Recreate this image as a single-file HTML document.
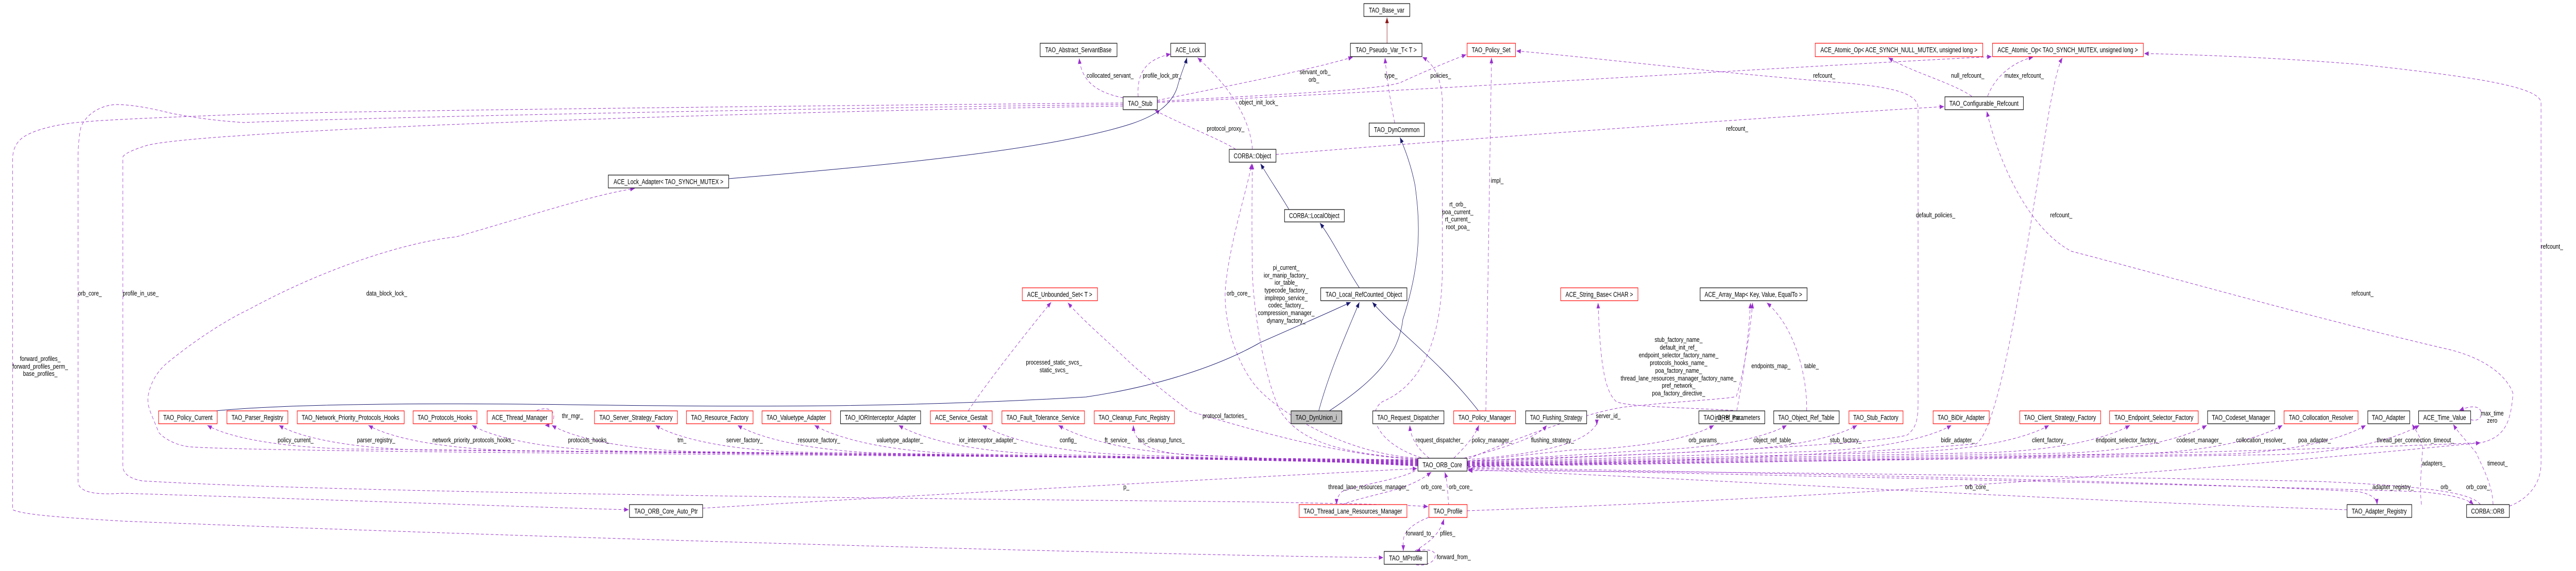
<!DOCTYPE html>
<html><head><meta charset="utf-8"><style>
html,body{margin:0;padding:0;background:#fff;width:100%;height:100%;overflow:hidden}
svg{display:block;width:100vw;height:100vh}
.n{font-family:"Liberation Sans",sans-serif;font-size:14px;fill:#000}
.l{font-family:"Liberation Sans",sans-serif;font-size:13px;fill:#000}
.p{fill:none;stroke:#9a32cd;stroke-width:1;stroke-dasharray:7,5}
.b{fill:none;stroke:#191970;stroke-width:1}
</style></head><body>
<svg viewBox="0 0 6335 1109" preserveAspectRatio="none" xmlns="http://www.w3.org/2000/svg">
<defs>
<marker id="ap" viewBox="0 0 10 10" refX="10" refY="5" markerWidth="11" markerHeight="11" markerUnits="userSpaceOnUse" orient="auto"><path d="M0,1 L10,5 L0,9 z" fill="#9a32cd"/></marker>
<marker id="ab" viewBox="0 0 10 10" refX="10" refY="5" markerWidth="11" markerHeight="11" markerUnits="userSpaceOnUse" orient="auto"><path d="M0,1 L10,5 L0,9 z" fill="#191970"/></marker>
<marker id="ar" viewBox="0 0 10 10" refX="10" refY="5" markerWidth="11" markerHeight="11" markerUnits="userSpaceOnUse" orient="auto"><path d="M0,1 L10,5 L0,9 z" fill="#8b1a1a"/></marker>
</defs>

<g marker-end="url(#ap)">
<path class="p" d="M3487,893 L860,872 C660,868 550,845 510,826"/>
<path class="p" d="M3487,895 L1036,874 C836,870 726,845 686,826"/>
<path class="p" d="M3487,896 L1256,875 C1056,870 946,845 906,826"/>
<path class="p" d="M3487,897 L1511,876 C1311,871 1201,845 1161,826"/>
<path class="p" d="M3487,898 L1707,877 C1507,872 1397,845 1357,826"/>
<path class="p" d="M3487,899 L1960,878 C1760,873 1650,845 1612,826"/>
<path class="p" d="M3487,900 L2164,880 C1964,874 1854,845 1814,826"/>
<path class="p" d="M3487,901 L2353,881 C2153,875 2043,845 2003,826"/>
<path class="p" d="M3487,902 L2560,882 C2360,876 2250,845 2210,826"/>
<path class="p" d="M3487,903 L2766,883 C2566,877 2456,845 2416,826"/>
<path class="p" d="M3487,904 L2953,884 C2753,878 2643,845 2603,826"/>
<path class="p" d="M3487,905 L3000,886 C2850,885 2790,870 2787,826"/>
<path class="p" d="M3515,890 C3500,880 3470,860 3467,826"/>
<path class="p" d="M3575,890 C3600,870 3625,850 3637,826"/>
<path class="p" d="M3600,890 C3700,870 3780,850 3804,826"/>
<path class="p" d="M3608,896 L3865,874 C4065,870 4175,845 4215,826"/>
<path class="p" d="M3608,897 L4044,875 C4244,870 4354,845 4394,826"/>
<path class="p" d="M3608,898 L4217,876 C4417,871 4527,845 4567,826"/>
<path class="p" d="M3608,899 L4449,877 C4649,872 4759,845 4799,826"/>
<path class="p" d="M3608,900 L4689,878 C4889,873 4999,845 5039,826"/>
<path class="p" d="M3608,901 L4888,879 C5088,874 5198,845 5238,826"/>
<path class="p" d="M3608,902 L5077,880 C5277,875 5387,845 5427,826"/>
<path class="p" d="M3608,903 L5263,881 C5463,876 5573,845 5613,826"/>
<path class="p" d="M3608,904 L5468,882 C5668,877 5778,845 5818,826"/>
<path class="p" d="M3608,905 L5600,883 C5800,878 5910,845 5950,826"/>
<path class="p" d="M3608,908 C4500,920 5500,940 5800,955 C5835,960 5845,970 5846,980"/>
<path class="p" d="M3608,910 C4500,925 5600,945 5950,955 C6030,960 6070,970 6083,980"/>
<path class="p" d="M5772,990 C5000,970 4200,930 3610,912"/>
<path class="p" d="M6100,980 C6080,960 6000,945 5700,935 C4800,920 4000,915 3610,914"/>
<path class="p" d="M5955,980 C5950,950 5955,900 5958,870 C5955,850 5940,835 5932,824"/>
<path class="p" d="M6131,980 C6130,940 6100,900 6090,880 C6070,860 6045,840 6033,824"/>
<path class="p" d="M6076,815 C6105,822 6110,795 6090,791 C6080,789 6070,790 6048,797"/>
<path class="p" d="M1320,797 C1345,790 1360,795 1362,808 C1362,822 1350,826 1340,826"/>
<path class="p" d="M6171,983 C6200,975 6249,950 6249,900 L6249,200 C6249,170 6100,150 5800,125 C5600,112 5400,106 5273,104"/>
<path class="p" d="M3610,906 C4300,900 5500,880 6100,860 C6160,850 6175,820 6180,764 C6170,740 6130,700 6024,679 C5700,620 5300,530 5094,488 C4980,440 4910,300 4886,216"/>
<path class="p" d="M3610,907 C4000,900 4600,880 4860,862 C4920,830 4980,500 5040,212 C5050,170 5060,130 5072,112"/>
<path class="p" d="M3610,895 C4000,885 4600,865 4690,845 C4715,830 4717,810 4717,780 L4717,210 C4717,180 4650,170 4550,162 C4200,140 3900,110 3729,99"/>
<path class="p" d="M3612,891 C3700,860 3900,800 4000,790 C4150,778 4250,775 4270,770 C4290,720 4305,640 4310,588"/>
<path class="p" d="M4271,798 C4285,740 4300,660 4305,588"/>
<path class="p" d="M4262,797 C4150,792 4000,790 3975,780 C3945,760 3935,700 3930,588"/>
<path class="p" d="M4443,798 C4445,740 4420,640 4345,588"/>
<path class="p" d="M3620,892 C3800,880 3900,860 3927,823 L3927,826"/>
<path class="p" d="M2381,798 C2430,740 2530,640 2585,587"/>
<path class="p" d="M3487,892 C3300,885 3100,840 2927,799 C2860,760 2800,720 2773,700 C2720,660 2660,620 2626,588"/>
<path class="p" d="M3487,890 C3300,880 3150,800 3100,760 C3060,730 3010,650 3013,566 C3020,480 3070,360 3078,318"/>
<path class="p" d="M3487,892 C3300,880 3200,860 3150,800 C3110,740 3082,600 3080,530 C3078,450 3079,360 3080,318"/>
<path class="p" d="M3495,889 C3380,860 3360,800 3400,780 C3520,740 3547,620 3547,520 L3547,200 C3547,160 3530,125 3498,111"/>
<path class="p" d="M3654,798 L3668,112"/>
<path class="p" d="M3430,239 C3420,200 3410,150 3406,112"/>
<path class="p" d="M2799,188 C2795,140 2820,115 2879,105"/>
<path class="p" d="M2762,190 C2700,180 2660,160 2654,113"/>
<path class="p" d="M3080,290 C3075,240 3040,180 2945,112"/>
<path class="p" d="M3039,290 C3000,270 2900,240 2840,214"/>
<path class="p" d="M2846,195 C3000,170 3200,140 3327,111"/>
<path class="p" d="M2846,197 C3100,185 3400,175 3445,160 C3500,140 3560,120 3606,106"/>
<path class="p" d="M2846,199 C3400,180 4400,130 4898,110"/>
<path class="p" d="M3138,300 C3600,270 4300,230 4781,207"/>
<path class="p" d="M4849,187 C4800,160 4700,140 4644,112"/>
<path class="p" d="M4888,187 C4905,150 4950,120 5000,111"/>
<path class="p" d="M3487,894 C2500,885 700,880 470,868 C420,865 385,840 388,835 C370,800 362,790 364,771 C370,740 390,720 408,707 C480,660 560,620 612,601 C800,520 1000,470 1122,460 C1300,420 1450,380 1561,366"/>
<path class="p" d="M2762,200 C2000,205 900,215 600,222 C400,228 250,233 203,237 C150,240 90,250 60,265 C40,275 31,290 31,310 L31,990 C60,1000 150,1005 300,1012 C1500,1050 3000,1080 3402,1083"/>
<path class="p" d="M2762,203 C2000,210 900,228 600,238 C560,236 500,232 421,220 C380,212 330,203 283,203 C240,206 210,225 199,247 C193,270 192,290 192,310 L192,935 C192,955 230,962 300,958 C800,970 1300,985 1546,990"/>
<path class="p" d="M2762,206 C2000,215 1000,240 600,263 C500,268 400,275 363,282 C330,290 306,298 302,305 L302,905 C302,920 320,930 350,934 C900,960 2500,970 3100,975 C3300,978 3450,980 3512,984"/>
<path class="p" d="M1728,987 C2300,960 3000,930 3485,910"/>
<path class="p" d="M3480,914 C3450,930 3350,940 3300,955 C3287,965 3287,975 3287,980"/>
<path class="p" d="M3300,980 C3350,965 3430,955 3470,940 C3500,930 3515,920 3520,917"/>
<path class="p" d="M3563,983 C3560,960 3560,935 3553,917"/>
<path class="p" d="M3513,1005 C3480,1015 3455,1030 3452,1045 C3450,1055 3451,1062 3451,1070"/>
<path class="p" d="M3480,1070 C3510,1055 3540,1040 3551,1008"/>
<path class="p" d="M3483,1097 C3510,1100 3530,1090 3530,1078 C3528,1068 3505,1065 3482,1071"/>
<path class="p" d="M3608,992 C4200,975 5000,945 6100,860"/>
</g>

<g marker-end="url(#ab)">
<path class="b" d="M1792,347 C2200,320 2590,290 2784,240 C2840,225 2880,205 2895,170 C2905,140 2915,125 2919,112"/>
<path class="b" d="M3170,407 C3150,380 3120,345 3100,318"/>
<path class="b" d="M3343,559 C3310,520 3280,470 3246,433"/>
<path class="b" d="M3243,798 C3270,720 3310,650 3343,587"/>
<path class="b" d="M3269,798 C3380,740 3440,690 3450,620 C3500,500 3490,420 3480,360 C3470,320 3455,290 3443,267"/>
<path class="b" d="M3636,798 C3540,700 3430,640 3375,587"/>
<path class="b" d="M531,798 C700,785 1000,782 1400,786 C1800,790 2200,793 2671,771 C2850,750 3000,710 3100,665 C3200,630 3260,610 3322,587"/>
</g>
<path d="M3411,84 L3411,34" stroke="#8b1a1a" stroke-width="1" fill="none" marker-end="url(#ar)"/>

<g stroke-width="1.2">
<rect x="3354" y="7" width="113" height="25" fill="#fff" stroke="#000"/>
<rect x="2558" y="84" width="189" height="26" fill="#fff" stroke="#000"/>
<rect x="2879" y="84" width="85" height="26" fill="#fff" stroke="#000"/>
<rect x="3321" y="84" width="176" height="26" fill="#fff" stroke="#000"/>
<rect x="3608" y="84" width="119" height="26" fill="#fff" stroke="#f00"/>
<rect x="4464" y="84" width="412" height="26" fill="#fff" stroke="#f00"/>
<rect x="4900" y="84" width="371" height="26" fill="#fff" stroke="#f00"/>
<rect x="2762" y="188" width="84" height="25" fill="#fff" stroke="#000"/>
<rect x="4783" y="188" width="193" height="25" fill="#fff" stroke="#000"/>
<rect x="3367" y="239" width="136" height="26" fill="#fff" stroke="#000"/>
<rect x="3023" y="290" width="115" height="25" fill="#fff" stroke="#000"/>
<rect x="1496" y="340" width="296" height="25" fill="#fff" stroke="#000"/>
<rect x="3159" y="407" width="147" height="24" fill="#fff" stroke="#000"/>
<rect x="2514" y="559" width="185" height="25" fill="#fff" stroke="#f00"/>
<rect x="3248" y="559" width="212" height="25" fill="#fff" stroke="#000"/>
<rect x="3838" y="559" width="190" height="25" fill="#fff" stroke="#f00"/>
<rect x="4181" y="559" width="263" height="25" fill="#fff" stroke="#000"/>
<rect x="390" y="798" width="144" height="25" fill="#fff" stroke="#f00"/>
<rect x="558" y="798" width="150" height="25" fill="#fff" stroke="#f00"/>
<rect x="731" y="798" width="263" height="25" fill="#fff" stroke="#f00"/>
<rect x="1016" y="798" width="157" height="25" fill="#fff" stroke="#f00"/>
<rect x="1198" y="798" width="160" height="25" fill="#fff" stroke="#f00"/>
<rect x="1462" y="798" width="204" height="25" fill="#fff" stroke="#f00"/>
<rect x="1688" y="798" width="164" height="25" fill="#fff" stroke="#f00"/>
<rect x="1874" y="798" width="169" height="25" fill="#fff" stroke="#f00"/>
<rect x="2067" y="798" width="197" height="25" fill="#fff" stroke="#000"/>
<rect x="2288" y="798" width="152" height="25" fill="#fff" stroke="#f00"/>
<rect x="2464" y="798" width="203" height="25" fill="#fff" stroke="#f00"/>
<rect x="2691" y="798" width="197" height="25" fill="#fff" stroke="#f00"/>
<rect x="3175" y="798" width="125" height="25" fill="#bfbfbf" stroke="#000"/>
<rect x="3376" y="798" width="175" height="25" fill="#fff" stroke="#000"/>
<rect x="3575" y="798" width="152" height="25" fill="#fff" stroke="#f00"/>
<rect x="3752" y="798" width="150" height="25" fill="#fff" stroke="#000"/>
<rect x="4178" y="798" width="162" height="25" fill="#fff" stroke="#000"/>
<rect x="4362" y="798" width="161" height="25" fill="#fff" stroke="#000"/>
<rect x="4547" y="798" width="133" height="25" fill="#fff" stroke="#f00"/>
<rect x="4754" y="798" width="138" height="25" fill="#fff" stroke="#f00"/>
<rect x="4967" y="798" width="199" height="25" fill="#fff" stroke="#f00"/>
<rect x="5188" y="798" width="218" height="25" fill="#fff" stroke="#f00"/>
<rect x="5429" y="798" width="165" height="25" fill="#fff" stroke="#000"/>
<rect x="5617" y="798" width="182" height="25" fill="#fff" stroke="#f00"/>
<rect x="5823" y="798" width="103" height="25" fill="#fff" stroke="#000"/>
<rect x="5948" y="798" width="128" height="25" fill="#fff" stroke="#000"/>
<rect x="3487" y="890" width="121" height="25" fill="#fff" stroke="#000"/>
<rect x="1548" y="980" width="180" height="25" fill="#fff" stroke="#000"/>
<rect x="3195" y="980" width="265" height="25" fill="#fff" stroke="#f00"/>
<rect x="3514" y="980" width="94" height="25" fill="#fff" stroke="#f00"/>
<rect x="5772" y="980" width="159" height="25" fill="#fff" stroke="#000"/>
<rect x="6066" y="980" width="105" height="25" fill="#fff" stroke="#000"/>
<rect x="3404" y="1071" width="106" height="25" fill="#fff" stroke="#000"/>
</g>

<g class="n" text-anchor="middle" dominant-baseline="central">
<text x="3410" y="20" textLength="87" lengthAdjust="spacingAndGlyphs">TAO_Base_var</text>
<text x="2652" y="97" textLength="163" lengthAdjust="spacingAndGlyphs">TAO_Abstract_ServantBase</text>
<text x="2921" y="97" textLength="60" lengthAdjust="spacingAndGlyphs">ACE_Lock</text>
<text x="3409" y="97" textLength="150" lengthAdjust="spacingAndGlyphs">TAO_Pseudo_Var_T&lt; T &gt;</text>
<text x="3667" y="97" textLength="95" lengthAdjust="spacingAndGlyphs">TAO_Policy_Set</text>
<text x="4670" y="97" textLength="386" lengthAdjust="spacingAndGlyphs">ACE_Atomic_Op&lt; ACE_SYNCH_NULL_MUTEX, unsigned long &gt;</text>
<text x="5085" y="97" textLength="345" lengthAdjust="spacingAndGlyphs">ACE_Atomic_Op&lt; TAO_SYNCH_MUTEX, unsigned long &gt;</text>
<text x="2804" y="201" textLength="60" lengthAdjust="spacingAndGlyphs">TAO_Stub</text>
<text x="4879" y="201" textLength="170" lengthAdjust="spacingAndGlyphs">TAO_Configurable_Refcount</text>
<text x="3435" y="252" textLength="112" lengthAdjust="spacingAndGlyphs">TAO_DynCommon</text>
<text x="3080" y="303" textLength="92" lengthAdjust="spacingAndGlyphs">CORBA::Object</text>
<text x="1644" y="353" textLength="270" lengthAdjust="spacingAndGlyphs">ACE_Lock_Adapter&lt; TAO_SYNCH_MUTEX &gt;</text>
<text x="3232" y="419" textLength="124" lengthAdjust="spacingAndGlyphs">CORBA::LocalObject</text>
<text x="2606" y="572" textLength="160" lengthAdjust="spacingAndGlyphs">ACE_Unbounded_Set&lt; T &gt;</text>
<text x="3354" y="572" textLength="188" lengthAdjust="spacingAndGlyphs">TAO_Local_RefCounted_Object</text>
<text x="3933" y="572" textLength="166" lengthAdjust="spacingAndGlyphs">ACE_String_Base&lt; CHAR &gt;</text>
<text x="4312" y="572" textLength="240" lengthAdjust="spacingAndGlyphs">ACE_Array_Map&lt; Key, Value, EqualTo &gt;</text>
<text x="462" y="811" textLength="121" lengthAdjust="spacingAndGlyphs">TAO_Policy_Current</text>
<text x="633" y="811" textLength="127" lengthAdjust="spacingAndGlyphs">TAO_Parser_Registry</text>
<text x="862" y="811" textLength="240" lengthAdjust="spacingAndGlyphs">TAO_Network_Priority_Protocols_Hooks</text>
<text x="1094" y="811" textLength="134" lengthAdjust="spacingAndGlyphs">TAO_Protocols_Hooks</text>
<text x="1278" y="811" textLength="137" lengthAdjust="spacingAndGlyphs">ACE_Thread_Manager</text>
<text x="1564" y="811" textLength="180" lengthAdjust="spacingAndGlyphs">TAO_Server_Strategy_Factory</text>
<text x="1770" y="811" textLength="141" lengthAdjust="spacingAndGlyphs">TAO_Resource_Factory</text>
<text x="1958" y="811" textLength="146" lengthAdjust="spacingAndGlyphs">TAO_Valuetype_Adapter</text>
<text x="2165" y="811" textLength="175" lengthAdjust="spacingAndGlyphs">TAO_IORInterceptor_Adapter</text>
<text x="2364" y="811" textLength="129" lengthAdjust="spacingAndGlyphs">ACE_Service_Gestalt</text>
<text x="2565" y="811" textLength="180" lengthAdjust="spacingAndGlyphs">TAO_Fault_Tolerance_Service</text>
<text x="2789" y="811" textLength="175" lengthAdjust="spacingAndGlyphs">TAO_Cleanup_Func_Registry</text>
<text x="3237" y="811" textLength="102" lengthAdjust="spacingAndGlyphs">TAO_DynUnion_i</text>
<text x="3463" y="811" textLength="152" lengthAdjust="spacingAndGlyphs">TAO_Request_Dispatcher</text>
<text x="3651" y="811" textLength="129" lengthAdjust="spacingAndGlyphs">TAO_Policy_Manager</text>
<text x="3827" y="811" textLength="128" lengthAdjust="spacingAndGlyphs">TAO_Flushing_Strategy</text>
<text x="4259" y="811" textLength="139" lengthAdjust="spacingAndGlyphs">TAO_ORB_Parameters</text>
<text x="4253" y="811" textLength="72" lengthAdjust="spacingAndGlyphs">init_ref_ma...</text>
<text x="4442" y="811" textLength="138" lengthAdjust="spacingAndGlyphs">TAO_Object_Ref_Table</text>
<text x="4613" y="811" textLength="111" lengthAdjust="spacingAndGlyphs">TAO_Stub_Factory</text>
<text x="4823" y="811" textLength="116" lengthAdjust="spacingAndGlyphs">TAO_BiDir_Adapter</text>
<text x="5066" y="811" textLength="177" lengthAdjust="spacingAndGlyphs">TAO_Client_Strategy_Factory</text>
<text x="5297" y="811" textLength="194" lengthAdjust="spacingAndGlyphs">TAO_Endpoint_Selector_Factory</text>
<text x="5511" y="811" textLength="143" lengthAdjust="spacingAndGlyphs">TAO_Codeset_Manager</text>
<text x="5708" y="811" textLength="158" lengthAdjust="spacingAndGlyphs">TAO_Collocation_Resolver</text>
<text x="5874" y="811" textLength="82" lengthAdjust="spacingAndGlyphs">TAO_Adapter</text>
<text x="6012" y="811" textLength="105" lengthAdjust="spacingAndGlyphs">ACE_Time_Value</text>
<text x="3547" y="903" textLength="97" lengthAdjust="spacingAndGlyphs">TAO_ORB_Core</text>
<text x="1638" y="993" textLength="156" lengthAdjust="spacingAndGlyphs">TAO_ORB_Core_Auto_Ptr</text>
<text x="3327" y="993" textLength="242" lengthAdjust="spacingAndGlyphs">TAO_Thread_Lane_Resources_Manager</text>
<text x="3561" y="993" textLength="71" lengthAdjust="spacingAndGlyphs">TAO_Profile</text>
<text x="5851" y="993" textLength="135" lengthAdjust="spacingAndGlyphs">TAO_Adapter_Registry</text>
<text x="6118" y="993" textLength="82" lengthAdjust="spacingAndGlyphs">CORBA::ORB</text>
<text x="3457" y="1084" textLength="82" lengthAdjust="spacingAndGlyphs">TAO_MProfile</text>
</g>

<g class="l" text-anchor="middle" dominant-baseline="central">
<text x="221" y="570">orb_core_</text>
<text x="346" y="570">profile_in_use_</text>
<text x="951" y="570">data_block_lock_</text>
<text x="99" y="697">forward_profiles_</text>
<text x="99" y="712">forward_profiles_perm_</text>
<text x="99" y="726">base_profiles_</text>
<text x="727" y="855">policy_current_</text>
<text x="925" y="855">parser_registry_</text>
<text x="1164" y="855">network_priority_protocols_hooks_</text>
<text x="1408" y="808">thr_mgr_</text>
<text x="1448" y="855">protocols_hooks_</text>
<text x="1677" y="855">tm_</text>
<text x="1831" y="855">server_factory_</text>
<text x="2014" y="855">resource_factory_</text>
<text x="2213" y="855">valuetype_adapter_</text>
<text x="2429" y="855">ior_interceptor_adapter_</text>
<text x="2627" y="855">config_</text>
<text x="2748" y="855">ft_service_</text>
<text x="2856" y="855">tss_cleanup_funcs_</text>
<text x="2730" y="147">collocated_servant_</text>
<text x="2858" y="147">profile_lock_ptr_</text>
<text x="3095" y="199">object_init_lock_</text>
<text x="3014" y="250">protocol_proxy_</text>
<text x="3234" y="140">servant_orb_</text>
<text x="3231" y="155">orb_</text>
<text x="3046" y="570">orb_core_</text>
<text x="3163" y="520">pi_current_</text>
<text x="3163" y="535">ior_manip_factory_</text>
<text x="3163" y="549">ior_table_</text>
<text x="3163" y="564">typecode_factory_</text>
<text x="3163" y="579">implrepo_service_</text>
<text x="3163" y="593">codec_factory_</text>
<text x="3163" y="608">compression_manager_</text>
<text x="3163" y="623">dynany_factory_</text>
<text x="2592" y="704">processed_static_svcs_</text>
<text x="2592" y="719">static_svcs_</text>
<text x="3012" y="808">protocol_factories_</text>
<text x="2770" y="946">p_</text>
<text x="3421" y="147">type_</text>
<text x="3543" y="147">policies_</text>
<text x="4486" y="147">refcount_</text>
<text x="4272" y="250">refcount_</text>
<text x="3682" y="351">impl_</text>
<text x="3585" y="397">rt_orb_</text>
<text x="3585" y="412">poa_current_</text>
<text x="3585" y="426">rt_current_</text>
<text x="3585" y="441">root_poa_</text>
<text x="4760" y="418">default_policies_</text>
<text x="4128" y="660">stub_factory_name_</text>
<text x="4128" y="675">default_init_ref_</text>
<text x="4128" y="690">endpoint_selector_factory_name_</text>
<text x="4128" y="705">protocols_hooks_name_</text>
<text x="4128" y="720">poa_factory_name_</text>
<text x="4128" y="735">thread_lane_resources_manager_factory_name_</text>
<text x="4128" y="749">pref_network_</text>
<text x="4128" y="764">poa_factory_directive_</text>
<text x="4355" y="711">endpoints_map_</text>
<text x="4455" y="711">table_</text>
<text x="3955" y="808">server_id_</text>
<text x="3540" y="855">request_dispatcher_</text>
<text x="3669" y="855">policy_manager_</text>
<text x="3818" y="855">flushing_strategy_</text>
<text x="4191" y="855">orb_params_</text>
<text x="4362" y="855">object_ref_table_</text>
<text x="4539" y="855">stub_factory_</text>
<text x="4815" y="855">bidir_adapter_</text>
<text x="3366" y="946">thread_lane_resources_manager_</text>
<text x="3524" y="946">orb_core_</text>
<text x="3592" y="946">orb_core_</text>
<text x="3492" y="1036">forward_to_</text>
<text x="3560" y="1036">pfiles_</text>
<text x="3575" y="1082">forward_from_</text>
<text x="4839" y="147">null_refcount_</text>
<text x="4978" y="147">mutex_refcount_</text>
<text x="5069" y="418">refcount_</text>
<text x="5810" y="570">refcount_</text>
<text x="6276" y="479">refcount_</text>
<text x="5039" y="855">client_factory_</text>
<text x="5232" y="855">endpoint_selector_factory_</text>
<text x="5408" y="855">codeset_manager_</text>
<text x="5560" y="855">collocation_resolver_</text>
<text x="5692" y="855">poa_adapter_</text>
<text x="5940" y="855">thread_per_connection_timeout_</text>
<text x="6129" y="803">max_time</text>
<text x="6129" y="817">zero</text>
<text x="5985" y="900">adapters_</text>
<text x="6142" y="900">timeout_</text>
<text x="4862" y="946">orb_core_</text>
<text x="5885" y="946">adapter_registry_</text>
<text x="6015" y="946">orb_</text>
<text x="6094" y="946">orb_core_</text>
</g>
</svg>
</body></html>
